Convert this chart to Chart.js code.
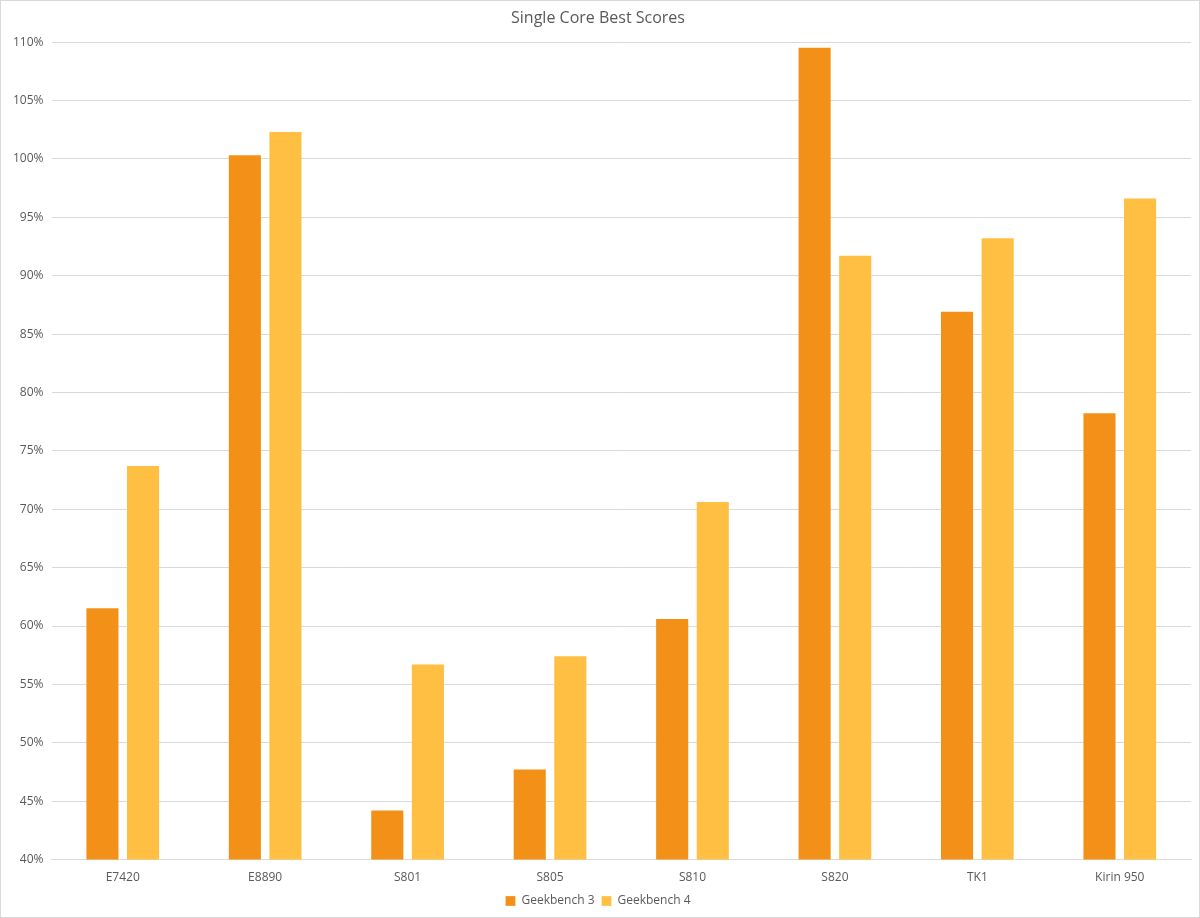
<!DOCTYPE html>
<html>
<head>
<meta charset="utf-8">
<script src="https://cdn.jsdelivr.net/npm/chart.js@4"></script>
<style>
  html, body { margin: 0; padding: 0; background: #fff; }
  #wrap { width: 1198px; height: 916px; border: 1px solid #d9d9d9; }
</style>
</head>
<body>
<div id="wrap"><canvas id="myChart" width="1198" height="916"></canvas></div>
<script>
var categories = ["E7420", "E8890", "S801", "S805", "S810", "S820", "TK1", "Kirin 950"];
var gb3Values = [61.6, 100.4, 44.3, 47.8, 60.7, 109.6, 87.0, 78.3];
var gb4Values = [73.8, 102.4, 56.8, 57.5, 70.7, 91.8, 93.3, 96.7];
var yMin = 40, yMax = 110, yStep = 5;

var textColor = "#595959";
var gridColor = "#d9d9d9";

ch = document.getElementById("myChart");
new Chart(ch, {
  type: "bar",
  data: {
    labels: categories,
    datasets: [
      {
        label: "Geekbench 3",
        data: gb3Values,
        backgroundColor: "#F39017",
        borderColor: "rgba(255,255,255,0.25)",
        borderWidth: 1,
        categoryPercentage: 0.57,
        barPercentage: 0.84,
      },
      {
        label: "Geekbench 4",
        data: gb4Values,
        backgroundColor: "#FFBF42",
        borderColor: "rgba(255,255,255,0.25)",
        borderWidth: 1,
        categoryPercentage: 0.57,
        barPercentage: 0.84,
      },
    ],
  },
  options: {
    responsive: false,
    devicePixelRatio: 1,
    animation: false,
    layout: { padding: { left: 4, right: 8, top: 4, bottom: 0 } },
    scales: {
      x: {
        grid: { display: false },
        border: { color: gridColor },
        ticks: { color: textColor, font: { family: "Open Sans", size: 12 }, padding: 3 },
      },
      y: {
        min: yMin,
        max: yMax,
        ticks: {
          stepSize: yStep,
          color: textColor,
          font: { family: "Open Sans", size: 12 },
          padding: 8,
          callback: function (v) { return v + "%"; },
        },
        grid: { color: gridColor, drawTicks: false },
        border: { display: false },
      },
    },
    plugins: {
      title: {
        display: true,
        text: "Single Core Best Scores",
        color: textColor,
        font: { family: "Open Sans", size: 16, weight: "normal" },
        padding: { top: 4, bottom: 14 },
      },
      legend: {
        display: true,
        position: "bottom",
        labels: {
          color: textColor,
          font: { family: "Open Sans", size: 12 },
          boxWidth: 10,
          boxHeight: 10,
          padding: 7,
        },
      },
      tooltip: { enabled: false },
    },
  },
}); //end of chart
</script>
</body>
</html>
